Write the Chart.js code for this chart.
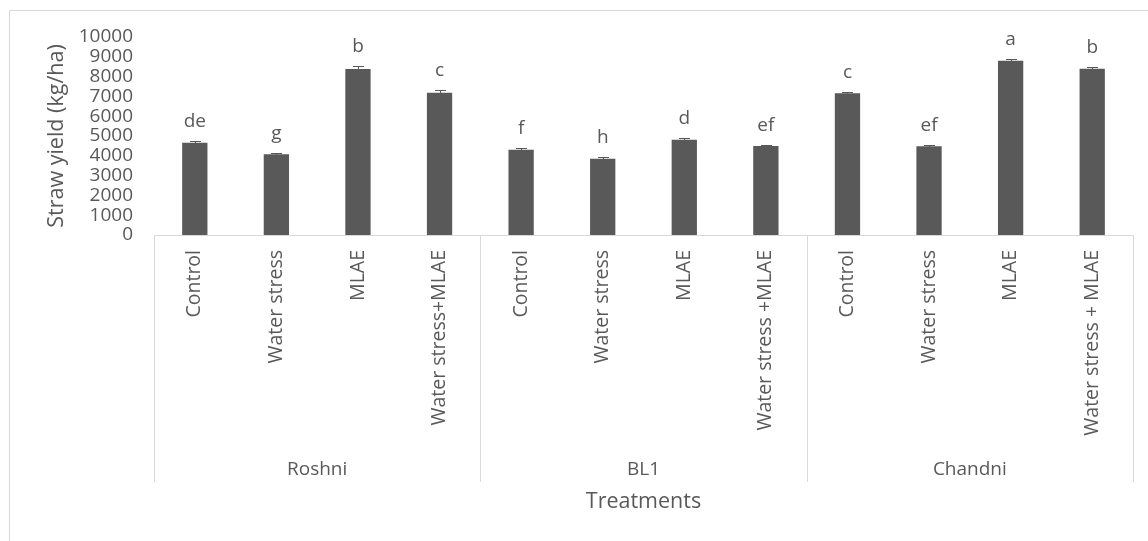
<!DOCTYPE html>
<html>
<head>
<meta charset="utf-8">
<title>Straw yield by treatment</title>
<script src="https://cdn.jsdelivr.net/npm/chart.js@4/dist/chart.umd.min.js"></script>
<style>
  html, body { margin: 0; padding: 0; background: #ffffff; }
  #wrap { width: 1148px; height: 541px; position: relative; }
</style>
</head>
<body>
<div id="wrap"><canvas id="chart" width="1148" height="541"></canvas></div>
<script>
// Varieties (outer category level) and treatments (inner level)
const varieties = ['Roshni', 'BL1', 'Chandni'];
const treatments = [
  'Control', 'Water stress', 'MLAE', 'Water stress+MLAE',
  'Control', 'Water stress', 'MLAE', 'Water stress +MLAE',
  'Control', 'Water stress', 'MLAE', 'Water stress + MLAE'
];
// Mean straw yield (kg/ha) and standard error per treatment
const strawYield = [4660, 4080, 8380, 7190, 4310, 3850, 4810, 4500, 7160, 4480, 8800, 8400];
const stdError   = [100, 80, 170, 150, 100, 85, 70, 65, 80, 80, 100, 85];
// Significance letters shown above each bar
const sigLetters = ['de', 'g', 'b', 'c', 'f', 'h', 'd', 'ef', 'c', 'ef', 'a', 'b'];
// Value axis ticks
const yTicks = [0, 1000, 2000, 3000, 4000, 5000, 6000, 7000, 8000, 9000, 10000];

const TEXT = '#595959';
const LINE = '#d9d9d9';
Chart.defaults.font.family = "'Open Sans', 'DejaVu Sans', sans-serif";
Chart.defaults.color = TEXT;

// Draws the chart frame, the grouped category boxes, variety names,
// error bars and the letter annotations.
const decorations = {
  id: 'decorations',
  beforeDraw(chart) {
    const ctx = chart.ctx;
    ctx.save();
    ctx.strokeStyle = LINE;
    ctx.lineWidth = 1;
    ctx.beginPath();
    ctx.moveTo(9.5, chart.height);
    ctx.lineTo(9.5, 10.5);
    ctx.lineTo(chart.width, 10.5);
    ctx.stroke();
    ctx.restore();
  },
  afterDatasetsDraw(chart) {
    const ctx = chart.ctx;
    const x = chart.scales.x;
    const y = chart.scales.y;
    const n = treatments.length;
    const perGroup = n / varieties.length;
    const boxBottom = x.top + 247;

    ctx.save();
    // group box separators
    ctx.strokeStyle = LINE;
    ctx.lineWidth = 1;
    ctx.beginPath();
    for (let g = 0; g <= varieties.length; g++) {
      let px;
      if (g === 0) px = x.left;
      else if (g === varieties.length) px = x.right;
      else px = (x.getPixelForValue(g * perGroup - 1) + x.getPixelForValue(g * perGroup)) / 2;
      px = Math.round(px) + 0.5;
      ctx.moveTo(px, x.top);
      ctx.lineTo(px, boxBottom);
    }
    ctx.stroke();

    // variety names
    ctx.fillStyle = TEXT;
    ctx.font = "19px 'Open Sans', sans-serif";
    ctx.textAlign = 'center';
    ctx.textBaseline = 'alphabetic';
    varieties.forEach((name, g) => {
      const a = x.getPixelForValue(g * perGroup);
      const b = x.getPixelForValue(g * perGroup + perGroup - 1);
      ctx.fillText(name, (a + b) / 2, x.top + 240);
    });

    // error bars and letters
    const meta = chart.getDatasetMeta(0);
    ctx.strokeStyle = TEXT;
    ctx.lineWidth = 1;
    strawYield.forEach((v, i) => {
      const cx = meta.data[i].x;
      const top = y.getPixelForValue(v + stdError[i]);
      const bot = y.getPixelForValue(v - stdError[i]);
      const xc = Math.round(cx) + 0.5;
      const yt = Math.round(top) + 0.5;
      ctx.beginPath();
      ctx.moveTo(xc, Math.round(bot));
      ctx.lineTo(xc, yt);
      ctx.moveTo(xc - 5.5, yt);
      ctx.lineTo(xc + 5.5, yt);
      ctx.stroke();
      ctx.fillText(sigLetters[i], cx, top - 14);
    });
    ctx.restore();
  }
};

new Chart(document.getElementById('chart'), {
  type: 'bar',
  data: {
    labels: treatments,
    datasets: [{
      label: 'Straw yield (kg/ha)',
      data: strawYield,
      backgroundColor: '#595959',
      borderWidth: 0,
      barPercentage: 0.31,
      categoryPercentage: 1.0
    }]
  },
  options: {
    responsive: false,
    animation: false,
    devicePixelRatio: 1,
    layout: { padding: { left: 10, right: 15, top: 37, bottom: 20 } },
    plugins: {
      legend: { display: false },
      tooltip: { enabled: false }
    },
    scales: {
      x: {
        grid: { display: false, drawTicks: false },
        border: { display: true, color: LINE, width: 1 },
        ticks: {
          autoSkip: false,
          maxRotation: 90,
          minRotation: 90,
          padding: 15,
          color: TEXT,
          font: { size: 19.5 }
        },
        title: {
          display: true,
          text: 'Treatments',
          color: TEXT,
          font: { size: 21.5 },
          padding: { top: 0, bottom: 6 }
        },
        afterFit(scale) { scale.height = 541 - 20 - 235; }
      },
      y: {
        min: 0,
        max: 10000,
        afterBuildTicks(scale) { scale.ticks = yTicks.map(v => ({ value: v })); },
        grid: { display: false, drawTicks: false },
        border: { display: false },
        ticks: {
          autoSkip: false,
          padding: 21,
          color: TEXT,
          font: { size: 19, lineHeight: 1 },
          callback: (value) => String(value)
        },
        title: {
          display: true,
          text: 'Straw yield (kg/ha)',
          color: TEXT,
          font: { size: 21.5 },
          padding: { top: 34, bottom: 0 }
        },
        afterFit(scale) { scale.width = 144; }
      }
    }
  },
  plugins: [decorations]
});
</script>
</body>
</html>
